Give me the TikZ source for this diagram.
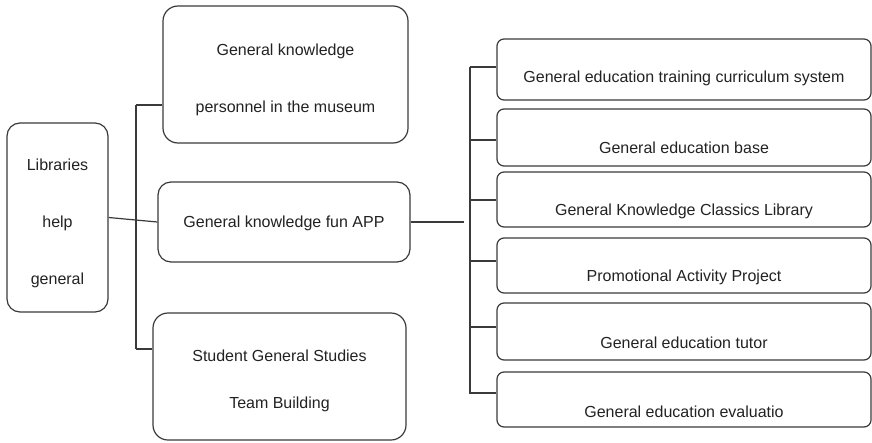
\documentclass[tikz,border=0pt]{standalone}
\usepackage{fontspec}
\setmainfont{Liberation Sans}
\usetikzlibrary{positioning}
\definecolor{linegray}{HTML}{3A3A3A}
\definecolor{textgray}{HTML}{222222}

\begin{document}
\begin{tikzpicture}[x=1pt,y=-1pt,
    box/.style={draw=linegray, line width=1.2pt, rounded corners=13pt, inner sep=0pt},
    rbox/.style={box, rounded corners=7pt, minimum width=374pt},
    txt/.style={text=textgray, font=\fontsize{16}{19}\selectfont, align=center},
    link/.style={draw=linegray, line width=1.2pt}]
        \useasboundingbox (0,0) rectangle (872,442);
        % left and middle column
        \node[box, minimum width=101pt, minimum height=189pt] (lib) at (57.5,217.5) {};
        \node[txt, font=\fontsize{16}{57}\selectfont] (libtext) at (57.5,223) {Libraries\\help\\general};
        \node[box, rounded corners=15pt, minimum width=245pt, minimum height=137pt] (gkp) at (285.5,74.5) {};
        \node[txt, font=\fontsize{16}{57}\selectfont] (gkptext) at (285.5,79.5) {General knowledge\\personnel in the museum};
        \node[box, txt, minimum width=252pt, minimum height=80pt, text depth=0pt] (app) at (284,222) {General knowledge fun APP};
        \node[box, rounded corners=15pt, minimum width=253pt, minimum height=127pt] (stu) at (279.5,376.5) {};
        \node[txt, font=\fontsize{16}{47}\selectfont] (stutext) at (279.5,380.5) {Student General Studies\\Team Building};
        % right column
        \foreach \n/\y/\h/\ty/\s in {edu1/69.5/61/78.5/General education training curriculum system,
                                    edu2/137.5/57/147.5/General education base,
                                    edu3/199.5/55/211.5/General Knowledge Classics Library,
                                    edu4/265.5/55/277.5/Promotional Activity Project,
                                    edu5/331.5/57/342.5/General education tutor,
                                    edu6/399.5/55/411.5/General education evaluatio}{
            \node[rbox, minimum height=\h pt] (\n) at (684,\y) {};
            \node[txt] (\n text) at (684,\ty) {\s};
        }
        % brackets
        \coordinate (ltop) at (136,105);
        \coordinate (lbot) at (136,349);
        \draw[link] (ltop) -- (lbot);
        \draw[link] (ltop) -- (ltop -| gkp.west);
        \draw[link] (lib.east) -- (app.west);
        \draw[link] (lbot) -- (lbot -| stu.west);
        \coordinate (rtop) at (470,67);
        \coordinate (rbot) at (470,394);
        \draw[link] (rtop) -- (rbot);
        \draw[link] (app.east) -- ++(53,0);
        \foreach \n/\y in {edu1/67, edu2/140, edu3/200, edu4/261, edu5/327, edu6/393}
            \draw[link] (470,\y) -- (\n.west |- 0,\y);
    \end{tikzpicture}
\end{document}
